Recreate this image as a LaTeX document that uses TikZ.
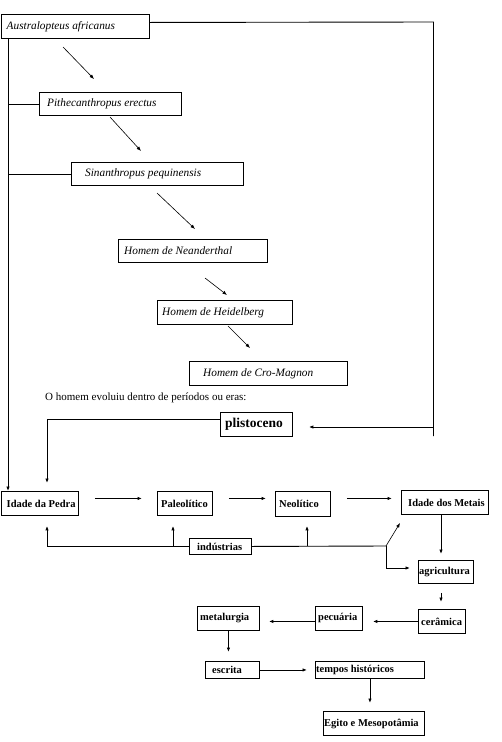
\documentclass[tikz,border=0pt]{standalone}
\usepackage{fontspec}
\setmainfont{Liberation Serif}
\usetikzlibrary{arrows.meta,calc}
\newcommand\bx[7]{%
  \node[box, anchor=north west, minimum width={(#4-#2)*1pt}, minimum height={(#5-#3)*1pt}] (#1) at (#2,#3) {};
  \node[lbl, anchor=west] (#1t) at ([xshift=#6pt]#1.west) {#7};}
\begin{document}
\begin{tikzpicture}[x=1pt,y=-1pt,
  box/.style={draw, line width=0.9pt, inner sep=0pt},
  lbl/.style={inner sep=0pt},
  ln/.style={line width=0.9pt},
  arr/.style={line width=0.9pt, -{Latex[length=4.5pt,width=3.5pt]}},
  darr/.style={line width=0.6pt, -{Latex[length=4.5pt,width=3.5pt]}},
  it/.style={font=\fontsize{11.3}{13}\selectfont\itshape},
  bf/.style={font=\fontsize{10.5}{12}\selectfont\bfseries}]
\useasboundingbox (0,0) rectangle (502,742);
% italic boxes
\begin{scope}[lbl/.append style={it}]
\bx{aus}{0.5}{14}{149}{38}{6}{Australopteus africanus}
\bx{pit}{39}{92}{181}{115}{8}{Pithecanthropus erectus}
\bx{sin}{71}{162}{243}{185}{14}{Sinanthropus pequinensis}
\bx{nea}{118}{239}{267}{262}{6}{Homem de Neanderthal}
\bx{hei}{157}{300}{292}{324}{5}{Homem de Heidelberg}
\bx{cro}{189}{361}{347}{385}{14}{Homem de Cro-Magnon}
\end{scope}
\node[anchor=west, inner sep=0pt, font=\fontsize{11}{13}\selectfont] (intro) at (45,398) {O homem evoluiu dentro de períodos ou eras:};
\begin{scope}[lbl/.append style={font=\fontsize{13.5}{15}\selectfont\bfseries}]
\bx{pli}{220}{412}{292}{436}{5}{plistoceno}
\end{scope}
\begin{scope}[lbl/.append style={bf}]
\bx{idp}{0.5}{491}{78}{515}{6}{Idade da Pedra}
\bx{pal}{157}{491}{212}{515}{4}{Paleolítico}
\bx{neo}{275}{491}{330}{516}{4}{Neolítico}
\bx{idm}{401}{490}{488}{514}{7}{Idade dos Metais}
\bx{ind}{189}{538}{251}{554}{8}{indústrias}
\bx{agr}{418}{560}{473}{583}{1}{agricultura}
\bx{cer}{418}{609}{465}{633}{3}{cerâmica}
\bx{pec}{315}{606}{362}{630}{3}{pecuária}
\bx{met}{197}{606}{259}{630}{3}{metalurgia}
\bx{esc}{205}{661}{259}{678}{7}{escrita}
\bx{tem}{315}{661}{424}{678}{1}{tempos históricos}
\bx{egi}{323}{711}{424}{735}{1}{Egito e Mesopotâmia}
\end{scope}
% coordinates
\coordinate (lt) at (8,38);
\coordinate (rtop) at (433.5,22);
\coordinate (rmid) at (433.5,427);
\coordinate (rbot) at (433.5,436);
\coordinate (pl) at (47,0);
\coordinate (b1) at (173,546);
\coordinate (b2) at (307,546);
\coordinate (j) at (386,546);
\coordinate (k) at (386,568);
\coordinate (dm) at (400,523);
\coordinate (v1) at (441,0);
\coordinate (d1a) at (63,47);   \coordinate (d1b) at (94,79);
\coordinate (d2a) at (110,117); \coordinate (d2b) at (141,151);
\coordinate (d3a) at (157,193); \coordinate (d3b) at (195,229);
\coordinate (d4a) at (205,278); \coordinate (d4b) at (227,295);
\coordinate (d5a) at (228,326); \coordinate (d5b) at (250,348);
% left trunk
\draw[arr] (lt) -- (lt |- idp.north);
\draw[ln] (lt |- pit.west) -- (pit.west);
\draw[ln] (lt |- sin.west) -- (sin.west);
% right frame
\draw[ln] ([yshift=4pt]aus.east) -- (rtop) -- (rbot);
\draw[arr, shorten >=16pt] (rmid) -- (pli.east |- rmid);
% diagonal arrows
\draw[darr] (d1a) -- (d1b);
\draw[darr] (d2a) -- (d2b);
\draw[darr] (d3a) -- (d3b);
\draw[darr] (d4a) -- (d4b);
\draw[darr] (d5a) -- (d5b);
% plistoceno
\draw[arr, shorten >=8pt] ([yshift=5pt]pli.west) -| (pl |- idp.north);
% ages
\draw[arr, shorten <=16pt, shorten >=15pt] ([yshift=5pt]idp.east) -- ([yshift=5pt]pal.west);
\draw[arr, shorten <=16pt, shorten >=9pt] ([yshift=5pt]pal.east) -- ([yshift=5pt]pal.east -| neo.west);
\draw[arr, shorten <=16pt, shorten >=9pt] ([yshift=5pt]pal.east -| neo.east) -- ([yshift=5pt]pal.east -| idm.west);
% industrias
\draw[arr, shorten >=10pt] (ind.west) -| (pl |- idp.south);
\draw[arr, shorten >=10pt] (b1) -- (b1 |- pal.south);
\draw[ln] (ind.east) -- (j);
\draw[arr, shorten >=9pt] (b2) -- (b2 |- neo.south);
\draw[darr] (j) -- (dm);
\draw[arr, shorten >=8pt] (j) -- (k) -- (k -| agr.west);
% lower chain
\draw[arr, shorten >=6pt] (v1 |- idm.south) -- (v1 |- agr.north);
\draw[arr, shorten <=9pt, shorten >=7pt] (v1 |- agr.south) -- (v1 |- cer.north);
\draw[arr, shorten >=10pt] (cer.west) -- (cer.west -| pec.east);
\draw[arr, shorten >=9pt] (pec.west |- cer.west) -- (met.east |- cer.west);
\draw[arr, shorten >=9pt] (met.south) -- (met.south |- esc.north);
\draw[arr, shorten >=8pt] (esc.east) -- (esc.east -| tem.west);
\draw[arr, shorten >=8pt] (tem.south) -- (tem.south |- egi.north);
\end{tikzpicture}
\end{document}
